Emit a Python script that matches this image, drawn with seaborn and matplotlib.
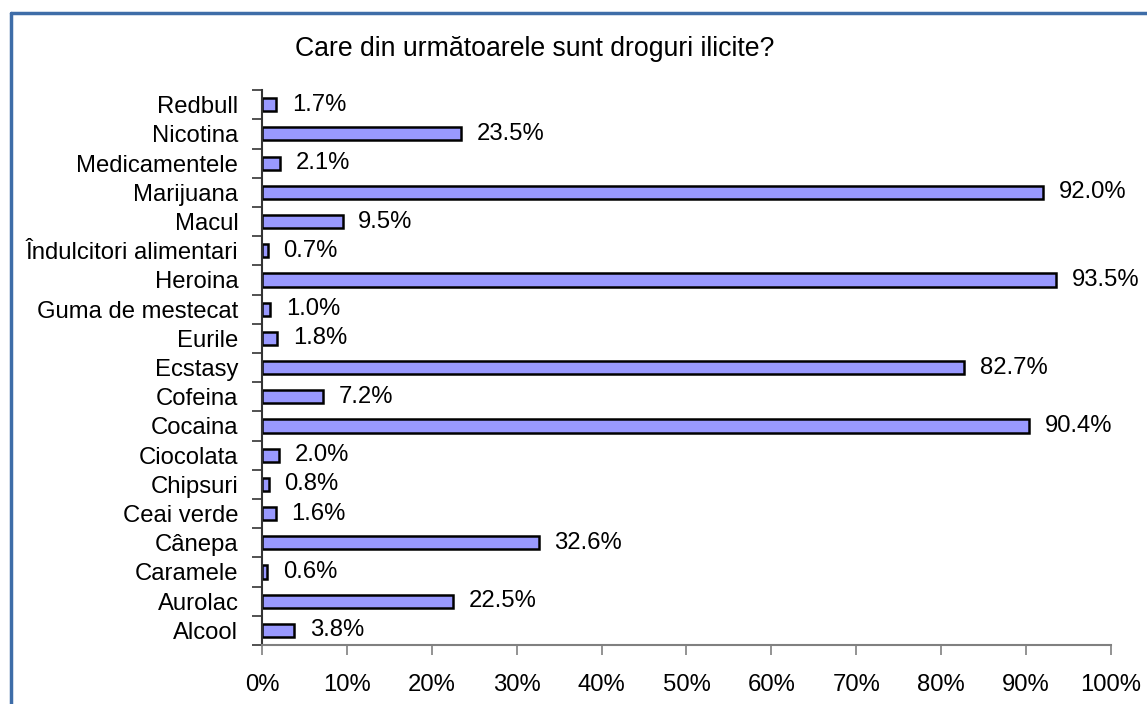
import pandas as pd
import matplotlib
matplotlib.use("Agg")
from matplotlib import pyplot as plt
from matplotlib.lines import Line2D
from matplotlib.ticker import FixedLocator, PercentFormatter
import seaborn as sns

categories = [
    "Redbull", "Nicotina", "Medicamentele", "Marijuana", "Macul",
    "Îndulcitori alimentari", "Heroina", "Guma de mestecat", "Eurile",
    "Ecstasy", "Cofeina", "Cocaina", "Ciocolata", "Chipsuri", "Ceai verde",
    "Cânepa", "Caramele", "Aurolac", "Alcool",
]
percent = [
    1.7, 23.5, 2.1, 92.0, 9.5, 0.7, 93.5, 1.0, 1.8,
    82.7, 7.2, 90.4, 2.0, 0.8, 1.6, 32.6, 0.6, 22.5, 3.8,
]
title = "Care din următoarele sunt droguri ilicite?"

df = pd.DataFrame({"drog": categories, "procent": percent})

sns.set_style("white")
plt.rcParams["font.family"] = ["Liberation Sans", "DejaVu Sans"]
plt.rcParams["text.color"] = "black"
plt.rcParams["xtick.labelcolor"] = "black"
plt.rcParams["ytick.labelcolor"] = "black"
FS = 17.2

fig = plt.figure(figsize=(11.47, 7.04), dpi=100)
ax = fig.add_axes([0.2284, 0.0838, 0.7402, 0.7882])

sns.barplot(
    data=df, y="drog", x="procent", orient="h", order=categories,
    color="#9999FF", saturation=1, edgecolor="black", linewidth=1.8,
    width=0.45, ax=ax,
)

for i, v in enumerate(percent):
    ax.text(v + 1.85, i, f"{v:.1f}%", va="center", ha="left", fontsize=FS,
            color="black")

ax.set_xlim(0, 100)
ax.set_ylim(len(categories) - 0.5, -0.5)
ax.set_xticks(range(0, 101, 10))
ax.xaxis.set_major_formatter(PercentFormatter(decimals=0))
ax.set_xlabel("")
ax.set_ylabel("")

# category labels centered, tick marks at the boundaries
ax.yaxis.set_major_locator(FixedLocator([i - 0.5 for i in range(len(categories) + 1)]))
ax.yaxis.set_major_formatter(plt.NullFormatter())
ax.yaxis.set_minor_locator(FixedLocator(range(len(categories))))
ax.set_yticklabels(categories, minor=True)
ax.tick_params(axis="y", which="minor", length=0, pad=17, labelsize=FS,
               labelcolor="black")
ax.tick_params(axis="y", which="major", length=7, width=1.2, color="#333333", left=True)
ax.tick_params(axis="x", length=7, width=1.2, color="#808080", bottom=True,
               labelsize=FS, pad=14, labelcolor="black")

for s in ["top", "right"]:
    ax.spines[s].set_visible(False)
ax.spines["left"].set_color("#333333")
ax.spines["left"].set_linewidth(1.5)
ax.spines["bottom"].set_color("#808080")
ax.spines["bottom"].set_linewidth(1.5)

fig.text(0.4665, 0.931, title, ha="center", va="center", fontsize=19.2,
         color="black")

# outer frame (only left and top visible)
fig.add_artist(Line2D([0.0093, 0.0093], [0.0, 0.9815], color="#3E6DA8", lw=2.5,
                      transform=fig.transFigure))
fig.add_artist(Line2D([0.0093, 1.0], [0.9815, 0.9815], color="#3E6DA8", lw=2.5,
                      transform=fig.transFigure))

plt.savefig("out.png", dpi=100)
